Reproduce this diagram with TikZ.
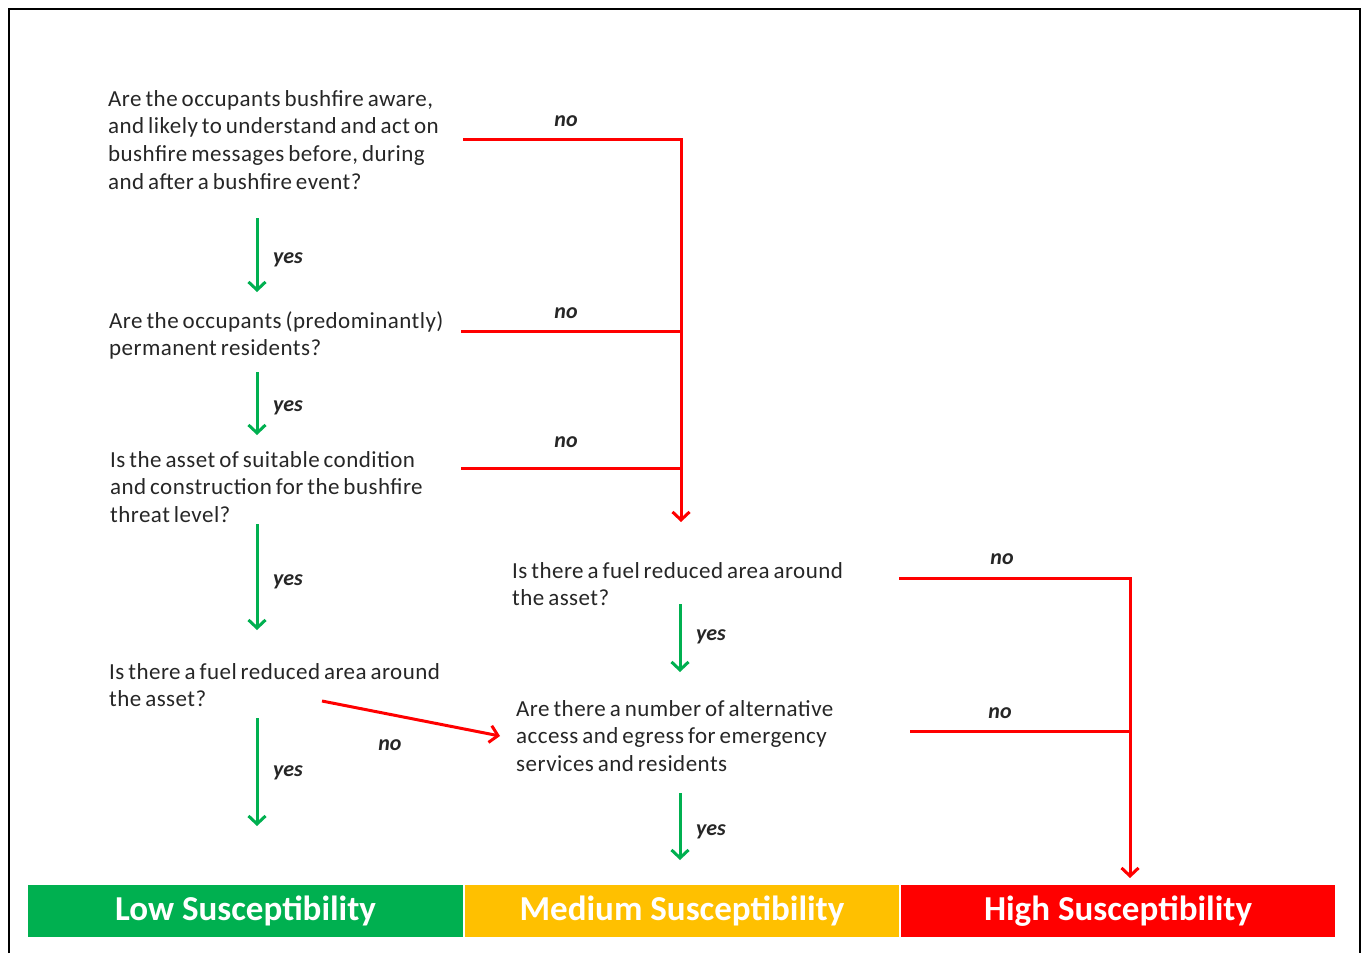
\documentclass[tikz,border=0pt]{standalone}
\usepackage{fontspec}
\setmainfont{Carlito}[WordSpace=0.7,LetterSpace=2]
\newfontfamily\bandfont{Carlito}
\usetikzlibrary{arrows.meta}
\definecolor{okgreen}{HTML}{00B050}
\definecolor{midyellow}{HTML}{FFC000}
\definecolor{hired}{HTML}{FF0000}
\begin{document}
\begin{tikzpicture}[x=1pt,y=-1pt,
  question/.style={anchor=north west,inner sep=0pt,align=left,text=black!85,
    font=\fontsize{23}{27.7}\selectfont},
  tag/.style={inner sep=0pt,text=black!85,font=\bandfont\fontsize{22}{24}\selectfont\bfseries\itshape},
  yesarrow/.style={draw=okgreen,line width=3pt,-{Straight Barb[length=8pt,width=17pt]}},
  noline/.style={draw=hired,line width=3pt},
  noarrow/.style={noline,-{Straight Barb[length=8pt,width=17pt]}},
  band/.style={minimum height=52pt,inner sep=0pt,text=white,
    font=\bandfont\fontsize{35}{38}\selectfont\bfseries}]
  \useasboundingbox (0,0) rectangle (1364,953);

  % outer frame (open at the bottom edge of the page)
  \draw[line width=2pt] (9,953) -- (9,9) -- (1360,9) -- (1360,953);

  % questions, left column
  \node[question] (q1) at (108,90) {Are the occupants bushfire aware,\\and likely to understand and act on\\bushfire messages before, during\\and after a bushfire event?};
  \node[question] (q2) at (109,311) {Are the occupants (predominantly)\\permanent residents?};
  \node[question] (q3) at (110,451) {Is the asset of suitable condition\\and construction for the bushfire\\threat level?};
  \node[question] (q4) at (109,663) {Is there a fuel reduced area around\\the asset?};

  % questions, middle column
  \node[question] (m1) at (512,562) {Is there a fuel reduced area around\\the asset?};
  \node[question] (m2) at (516,700) {Are there a number of alternative\\access and egress for emergency\\services and residents};

  % outcome bands
  \node[band,fill=okgreen,minimum width=435pt] (low) at (245.5,911) {\raisebox{-2pt}{Low Susceptibility}};
  \node[band,fill=midyellow,minimum width=434pt] (med) at (682,911) {\raisebox{-2pt}{Medium Susceptibility}};
  \node[band,fill=hired,minimum width=434pt] (high) at (1118,911) {\raisebox{-2pt}{High Susceptibility}};

  % end points of the connectors
  \coordinate (g1a) at (257,218); \coordinate (g1b) at (257,292);
  \coordinate (g2a) at (257,372); \coordinate (g2b) at (257,435);
  \coordinate (g3a) at (257,524); \coordinate (g3b) at (257,630);
  \coordinate (g4a) at (257,718); \coordinate (g4b) at (257,826);
  \coordinate (g5a) at (680,604); \coordinate (g5b) at (680,672);
  \coordinate (g6a) at (680,793); \coordinate (g6b) at (680,860);

  \coordinate (r1a) at (463,139); \coordinate (r1c) at (681,139);
  \coordinate (r2a) at (461,331); \coordinate (r2c) at (681,331);
  \coordinate (r3a) at (461,468); \coordinate (r3c) at (681,468);
  \coordinate (r1end) at (681,522);
  \coordinate (r4a) at (322,701); \coordinate (r4b) at (500,736);
  \coordinate (r5a) at (899,578); \coordinate (r5c) at (1130,578);
  \coordinate (r6a) at (910,731); \coordinate (r6c) at (1130,731);
  \coordinate (r5end) at (1130,878);

  % "yes" branches
  \draw[yesarrow] (g1a) -- (g1b);
  \draw[yesarrow] (g2a) -- (g2b);
  \draw[yesarrow] (g3a) -- (g3b);
  \draw[yesarrow] (g4a) -- (g4b);
  \draw[yesarrow] (g5a) -- (g5b);
  \draw[yesarrow] (g6a) -- (g6b);
  \node[tag] (y1) at (288,260) {yes};
  \node[tag] (y2) at (288,408) {yes};
  \node[tag] (y3) at (288,582) {yes};
  \node[tag] (y4) at (288,773) {yes};
  \node[tag] (y5) at (711,637) {yes};
  \node[tag] (y6) at (711,832) {yes};

  % "no" branches
  \draw[noarrow] (r1a) -- (r1c) -- (r1end);
  \draw[noline] (r2a) -- (r2c);
  \draw[noline] (r3a) -- (r3c);
  \draw[noarrow] (r4a) -- (r4b);
  \draw[noarrow] (r5a) -- (r5c) -- (r5end);
  \draw[noline] (r6a) -- (r6c);
  \node[tag] (n1) at (566,121) {no};
  \node[tag] (n2) at (566,313) {no};
  \node[tag] (n3) at (566,442) {no};
  \node[tag] (n4) at (390,745) {no};
  \node[tag] (n5) at (1002,559) {no};
  \node[tag] (n6) at (1000,713) {no};
\end{tikzpicture}
\end{document}
